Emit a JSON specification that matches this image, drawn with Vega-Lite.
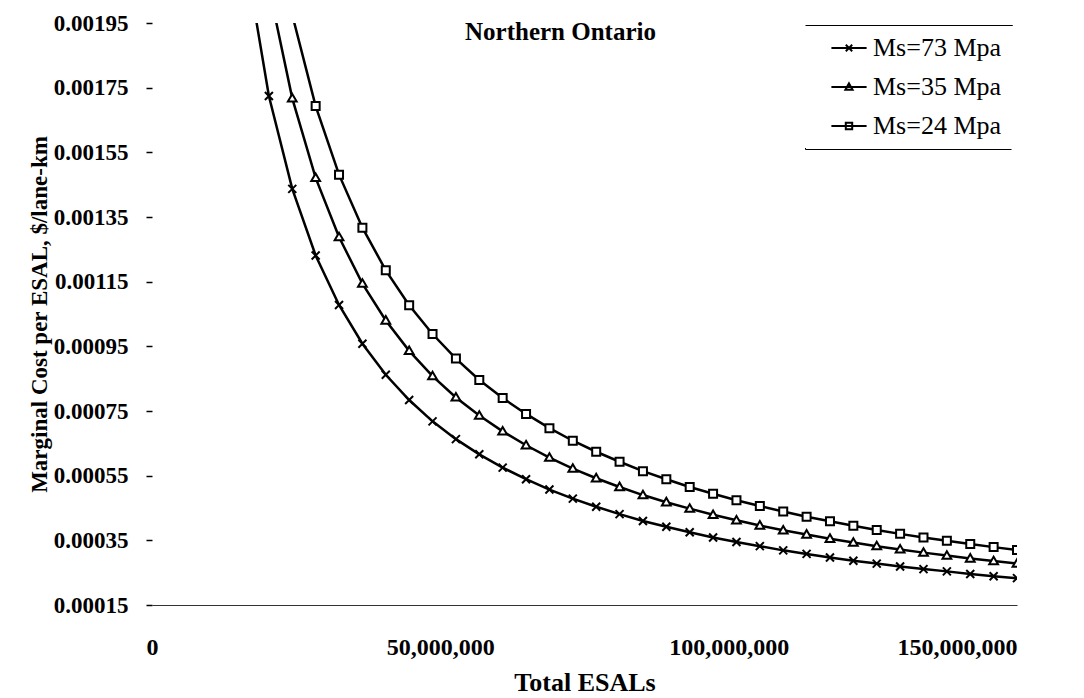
{
  "$schema": "https://vega.github.io/schema/vega-lite/v6.json",
  "width": 865,
  "height": 582,
  "autosize": {"type": "none"},
  "padding": {"left": 152, "top": 23, "right": 67, "bottom": 93},
  "background": "white",
  "title": {"text": "Northern Ontario", "font": "Liberation Serif", "fontSize": 25, "fontWeight": "bold", "color": "black", "anchor": "middle", "dx": -24, "dy": 53, "offset": 0, "baseline": "alphabetic"},
  "data": {"values": [
    {"esal": 16216216, "Ms=73 Mpa": 0.002155, "Ms=35 Mpa": 0.002575, "Ms=24 Mpa": 0.002963},
    {"esal": 20270270, "Ms=73 Mpa": 0.001724, "Ms=35 Mpa": 0.00206, "Ms=24 Mpa": 0.00237},
    {"esal": 24324324, "Ms=73 Mpa": 0.001437, "Ms=35 Mpa": 0.001717, "Ms=24 Mpa": 0.001975},
    {"esal": 28378378, "Ms=73 Mpa": 0.001231, "Ms=35 Mpa": 0.001471, "Ms=24 Mpa": 0.001693},
    {"esal": 32432432, "Ms=73 Mpa": 0.001078, "Ms=35 Mpa": 0.001288, "Ms=24 Mpa": 0.001481},
    {"esal": 36486486, "Ms=73 Mpa": 0.000958, "Ms=35 Mpa": 0.001144, "Ms=24 Mpa": 0.001317},
    {"esal": 40540541, "Ms=73 Mpa": 0.000862, "Ms=35 Mpa": 0.00103, "Ms=24 Mpa": 0.001185},
    {"esal": 44594595, "Ms=73 Mpa": 0.000784, "Ms=35 Mpa": 0.000936, "Ms=24 Mpa": 0.001077},
    {"esal": 48648649, "Ms=73 Mpa": 0.000718, "Ms=35 Mpa": 0.000858, "Ms=24 Mpa": 0.000988},
    {"esal": 52702703, "Ms=73 Mpa": 0.000663, "Ms=35 Mpa": 0.000792, "Ms=24 Mpa": 0.000912},
    {"esal": 56756757, "Ms=73 Mpa": 0.000616, "Ms=35 Mpa": 0.000736, "Ms=24 Mpa": 0.000846},
    {"esal": 60810811, "Ms=73 Mpa": 0.000575, "Ms=35 Mpa": 0.000687, "Ms=24 Mpa": 0.00079},
    {"esal": 64864865, "Ms=73 Mpa": 0.000539, "Ms=35 Mpa": 0.000644, "Ms=24 Mpa": 0.000741},
    {"esal": 68918919, "Ms=73 Mpa": 0.000507, "Ms=35 Mpa": 0.000606, "Ms=24 Mpa": 0.000697},
    {"esal": 72972973, "Ms=73 Mpa": 0.000479, "Ms=35 Mpa": 0.000572, "Ms=24 Mpa": 0.000658},
    {"esal": 77027027, "Ms=73 Mpa": 0.000454, "Ms=35 Mpa": 0.000542, "Ms=24 Mpa": 0.000624},
    {"esal": 81081081, "Ms=73 Mpa": 0.000431, "Ms=35 Mpa": 0.000515, "Ms=24 Mpa": 0.000593},
    {"esal": 85135135, "Ms=73 Mpa": 0.00041, "Ms=35 Mpa": 0.00049, "Ms=24 Mpa": 0.000564},
    {"esal": 89189189, "Ms=73 Mpa": 0.000392, "Ms=35 Mpa": 0.000468, "Ms=24 Mpa": 0.000539},
    {"esal": 93243243, "Ms=73 Mpa": 0.000375, "Ms=35 Mpa": 0.000448, "Ms=24 Mpa": 0.000515},
    {"esal": 97297297, "Ms=73 Mpa": 0.000359, "Ms=35 Mpa": 0.000429, "Ms=24 Mpa": 0.000494},
    {"esal": 101351351, "Ms=73 Mpa": 0.000345, "Ms=35 Mpa": 0.000412, "Ms=24 Mpa": 0.000474},
    {"esal": 105405405, "Ms=73 Mpa": 0.000332, "Ms=35 Mpa": 0.000396, "Ms=24 Mpa": 0.000456},
    {"esal": 109459459, "Ms=73 Mpa": 0.000319, "Ms=35 Mpa": 0.000381, "Ms=24 Mpa": 0.000439},
    {"esal": 113513514, "Ms=73 Mpa": 0.000308, "Ms=35 Mpa": 0.000368, "Ms=24 Mpa": 0.000423},
    {"esal": 117567568, "Ms=73 Mpa": 0.000297, "Ms=35 Mpa": 0.000355, "Ms=24 Mpa": 0.000409},
    {"esal": 121621622, "Ms=73 Mpa": 0.000287, "Ms=35 Mpa": 0.000343, "Ms=24 Mpa": 0.000395},
    {"esal": 125675676, "Ms=73 Mpa": 0.000278, "Ms=35 Mpa": 0.000332, "Ms=24 Mpa": 0.000382},
    {"esal": 129729730, "Ms=73 Mpa": 0.000269, "Ms=35 Mpa": 0.000322, "Ms=24 Mpa": 0.00037},
    {"esal": 133783784, "Ms=73 Mpa": 0.000261, "Ms=35 Mpa": 0.000312, "Ms=24 Mpa": 0.000359},
    {"esal": 137837838, "Ms=73 Mpa": 0.000254, "Ms=35 Mpa": 0.000303, "Ms=24 Mpa": 0.000349},
    {"esal": 141891892, "Ms=73 Mpa": 0.000246, "Ms=35 Mpa": 0.000294, "Ms=24 Mpa": 0.000339},
    {"esal": 145945946, "Ms=73 Mpa": 0.000239, "Ms=35 Mpa": 0.000286, "Ms=24 Mpa": 0.000329},
    {"esal": 150000000, "Ms=73 Mpa": 0.000233, "Ms=35 Mpa": 0.000278, "Ms=24 Mpa": 0.00032}
  ]},
  "transform": [{"fold": ["Ms=73 Mpa", "Ms=35 Mpa", "Ms=24 Mpa"], "as": ["series", "cost"]}],
  "encoding": {
    "x": {
      "field": "esal", "type": "quantitative",
      "scale": {"domain": [0, 150000000], "nice": false, "zero": true},
      "axis": {
        "values": [0, 50000000, 100000000, 150000000], "format": ",d",
        "grid": false, "ticks": false, "labelPadding": 30, "labelFlush": false,
        "labelAlign": {"condition": {"test": "datum.value >= 150000000", "value": "right"}, "value": "center"},
        "labelFont": "Liberation Serif", "labelFontSize": 24, "labelFontWeight": "bold", "labelColor": "black",
        "domainColor": "#333333", "domainWidth": 1,
        "title": "Total ESALs", "titleFont": "Liberation Serif", "titleFontSize": 26, "titleFontWeight": "bold", "titleColor": "black", "titlePadding": 10
      }
    },
    "y": {
      "field": "cost", "type": "quantitative",
      "scale": {"domain": [0.00015, 0.00195], "nice": false, "zero": false},
      "axis": {
        "values": [0.00015, 0.00035, 0.00055, 0.00075, 0.00095, 0.00115, 0.00135, 0.00155, 0.00175, 0.00195],
        "format": ".5f", "grid": false, "domain": false,
        "ticks": true, "tickSize": 6, "tickColor": "black", "tickWidth": 1.5, "labelPadding": 18,
        "labelFont": "Liberation Serif", "labelFontSize": 23, "labelFontWeight": "bold", "labelColor": "black",
        "title": "Marginal Cost per ESAL, $/lane-km", "titleFont": "Liberation Serif", "titleFontSize": 23, "titleFontWeight": "bold", "titleColor": "black", "titlePadding": 2
      }
    }
  },
  "layer": [
    {
      "mark": {"type": "line", "strokeWidth": 2.5, "clip": true},
      "encoding": {
        "color": {
          "field": "series", "type": "nominal",
          "scale": {"domain": ["Ms=73 Mpa", "Ms=35 Mpa", "Ms=24 Mpa"], "range": ["black", "black", "black"]},
          "legend": {
            "orient": "none", "legendX": 653, "legendY": 2, "title": null,
            "labelFont": "Liberation Serif", "labelFontSize": 26, "labelColor": "black",
            "symbolSize": 64, "symbolStrokeWidth": 2,
            "padding": 10, "rowPadding": 13, "labelOffset": 11, "symbolOffset": 21,
            "strokeColor": "black",
            "encode": {
              "symbols": {
                "update": {
                  "shape": {"signal": "datum.value === 'Ms=73 Mpa' ? 'M-4.4,0H4.4M-0.8,-0.8L0.8,0.8M-0.8,0.8L0.8,-0.8' : datum.value === 'Ms=35 Mpa' ? 'M-4.4,0H4.4M0,-0.9L0.9,0.7L-0.9,0.7Z' : 'M-4.4,0H4.4M-0.8,-0.8H0.8V0.8H-0.8Z'"}
                }
              }
            }
          }
        }
      }
    },
    {
      "mark": {"type": "point", "filled": false, "color": "black", "stroke": "black", "fill": "white", "fillOpacity": 1, "opacity": 1, "strokeWidth": 2, "size": 64, "clip": true},
      "encoding": {
        "shape": {
          "condition": [
            {"test": "datum.series === 'Ms=73 Mpa'", "value": "M-1,-1L1,1M-1,1L1,-1"},
            {"test": "datum.series === 'Ms=35 Mpa'", "value": "M0,-1.1L1.1,0.8L-1.1,0.8Z"}
          ],
          "value": "M-1,-1H1V1H-1Z"
        }
      }
    }
  ],
  "config": {"view": {"stroke": null}, "font": "Liberation Serif", "legend": {"strokeDash": [207.5, 124.5, 207.5, 124.5]}}
}
